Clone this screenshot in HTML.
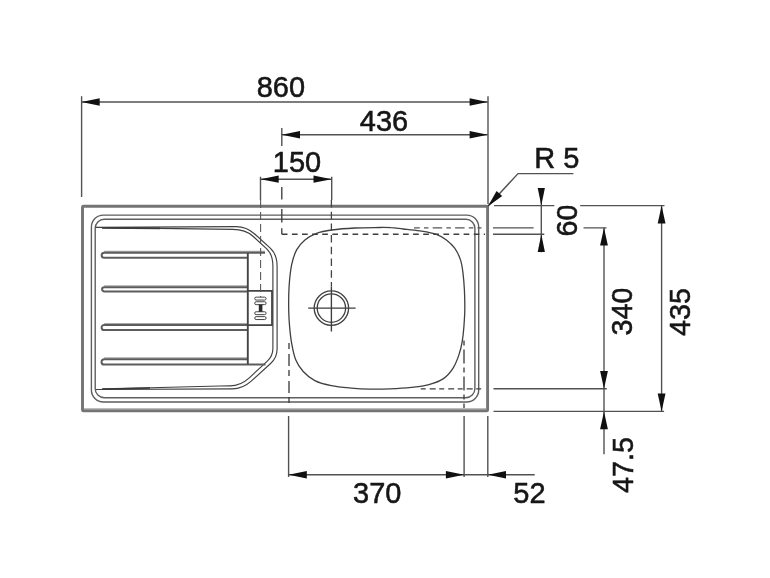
<!DOCTYPE html>
<html><head><meta charset="utf-8">
<style>
html,body{margin:0;padding:0;background:#fff;}
body{width:770px;height:578px;overflow:hidden;font-family:"Liberation Sans",sans-serif;}
svg{display:block;}
text{font-family:"Liberation Sans",sans-serif;font-size:29px;fill:#161616;stroke:#161616;stroke-width:0.55;}
.d{stroke:#525252;stroke-width:1.4;fill:none;}
.a{fill:#111;stroke:none;}
.o{stroke:#747474;stroke-width:2.9;fill:none;}
.r{stroke:#5e5e5e;stroke-width:1.4;fill:none;}
.b{stroke:#404040;stroke-width:1.3;fill:none;}
.k{stroke:#444;stroke-width:1.6;fill:none;}
.h{stroke:#3e3e3e;stroke-width:1.35;fill:none;}
</style></head><body>
<svg width="770" height="578" viewBox="0 0 770 578" style="filter:blur(0.45px)">
<rect width="770" height="578" fill="#fff"/>

<!-- ===== sink body ===== -->
<g id="sink">
<path d="M84,409 L486,409" stroke="#bdbdbd" stroke-width="1.8" fill="none"/>
<rect class="o" x="82.5" y="206.3" width="405.1" height="204.6" rx="1"/>
<rect class="r" x="91.4" y="215.1" width="387.3" height="186.9" rx="12"/>
<rect class="r" x="95.2" y="219.3" width="379.7" height="178.4" rx="9"/>

<!-- drainer outline -->
<path class="b" d="M95.6,227.3 L236,226.6 Q246.65,226.6 255,234.2 L270,247.9 Q277.1,254.4 277.1,266 L277.1,349 Q277.1,357.6 270.6,363.5 L251.5,380.9 Q242.5,389 232,388.9 L96,389.5" style="stroke-width:1.15"/>
<path class="b" d="M102,227.6 L233,229.4 Q245.4,229.4 253,236.3 L266.5,248.6 Q272.9,254.4 272.9,266 L272.9,348.6 Q272.9,356 267.3,361.2 L249.3,377.8 Q240.5,385.8 230,385.8 L170,387.3 L102.2,389.1" style="stroke-width:1.15"/>
<path d="M102,227.8 L160,228.4 M102.2,389 L150,388" stroke="#3a3a3a" stroke-width="1.7" fill="none"/>
<!-- ribs -->
<g style="fill:none;stroke:#5c5c5c;stroke-width:2">
<path d="M265,251.30 L104.2,251.30" stroke="#a8a8a8" stroke-width="1.2"/>
<path d="M265,252.70 L104.2,252.70 A2.55,2.55 0 0 0 104.2,257.80 L247.8,257.80"/>
<path d="M247.8,285.80 L104.2,285.80" stroke="#a8a8a8" stroke-width="1.2"/>
<path d="M247.8,287.20 L104.2,287.20 A2.10,2.10 0 0 0 104.2,291.40 L247.8,291.40"/>
<path d="M247.8,323.50 L104.2,323.50" stroke="#a8a8a8" stroke-width="1.2"/>
<path d="M247.8,324.90 L104.2,324.90 A2.60,2.60 0 0 0 104.2,330.10 L247.8,330.10"/>
<path d="M247.8,357.80 L104.2,357.80" stroke="#a8a8a8" stroke-width="1.2"/>
<path d="M247.8,359.20 L104.2,359.20 A2.70,2.70 0 0 0 104.2,364.60 L265.5,364.60"/>
</g>
<path class="k" d="M247.8,253 L247.8,364" style="stroke-width:1.9"/>
<!-- overflow box -->
<path class="k" d="M247.8,290.8 L272,290.8 L272,325.2 L247.8,325.2" style="stroke-width:1.8"/>
<g class="h" style="stroke-width:1;stroke:#444">
<rect x="254.7" y="297.15" width="11.4" height="2.9" rx="1.45"/>
<rect x="254.7" y="301.75" width="11.4" height="2.9" rx="1.45"/>
<rect x="254.7" y="311.75" width="11.4" height="2.9" rx="1.45"/>
<rect x="254.7" y="316.65" width="11.4" height="2.9" rx="1.45"/>
</g>
<rect x="258.8" y="304.6" width="3.6" height="7.2" fill="#2a2a2a"/>

<!-- bowl -->
<path class="b" d="M379.7,227.5 C385.7,227.4 387.1,227.4 391.0,227.7 C394.9,227.9 398.4,228.5 403.2,229.0 C408.0,229.5 414.3,230.0 419.8,230.9 C425.3,231.8 432.0,232.8 436.4,234.3 C440.8,235.8 443.3,237.6 446.4,239.9 C449.4,242.2 452.3,244.9 454.7,248.2 C457.1,251.5 459.1,255.7 460.5,259.9 C461.9,264.0 462.4,268.1 463.0,273.1 C463.6,278.1 464.1,283.7 464.4,289.8 C464.7,295.9 464.9,303.9 464.8,310.0 C464.7,316.1 464.3,321.3 463.9,326.6 C463.5,331.9 463.0,336.9 462.2,341.6 C461.4,346.3 460.4,350.5 458.9,354.9 C457.4,359.3 455.7,364.1 453.1,368.1 C450.5,372.1 447.3,376.1 443.1,378.9 C438.9,381.7 433.4,383.4 428.1,384.8 C422.8,386.2 417.9,386.6 411.5,387.3 C405.1,388.0 396.8,388.5 389.9,388.8 C383.0,389.1 376.4,389.2 370.0,389.1 C363.6,389.0 357.8,388.7 351.4,388.1 C345.0,387.5 337.5,386.9 331.4,385.6 C325.3,384.4 319.5,383.0 314.8,380.6 C310.1,378.2 306.4,375.0 303.2,371.5 C300.0,368.0 297.6,364.5 295.7,359.8 C293.8,355.1 292.6,348.7 291.6,343.2 C290.6,337.7 290.1,332.1 289.6,326.6 C289.1,321.1 288.8,316.7 288.7,310.0 C288.6,303.3 288.6,293.9 289.1,286.4 C289.6,278.9 290.4,271.0 291.6,264.9 C292.9,258.8 294.4,254.1 296.6,249.9 C298.8,245.7 301.6,242.7 304.9,239.9 C308.2,237.1 312.1,235.0 316.5,233.3 C320.9,231.7 325.1,230.9 331.5,230.0 C337.9,229.1 346.8,228.4 354.8,228.0 C362.8,227.6 373.7,227.6 379.7,227.5Z"/>

<!-- drain -->
<circle class="b" cx="331.4" cy="308.1" r="17.2"/>
<circle class="b" cx="331.4" cy="308.1" r="14.2"/>
<path class="h" d="M308.2,308.1 L355.6,308.1 M331.4,286.2 L331.4,331.6"/>
</g>

<!-- ===== hidden / dashed lines ===== -->
<g class="h">
<path d="M281.8,187 L281.8,199.6 M281.8,209.1 L281.8,222.4 M281.8,228.2 L281.8,234.3"/>
<path d="M281.8,234.2 L485,234.2" stroke-dasharray="5.7 4.4"/>
<path d="M260.6,200 L260.6,297" stroke-dasharray="8 4" style="stroke:#555;stroke-width:1.05"/>
<path d="M331.4,200 L331.4,286" stroke-dasharray="7.5 4.2" style="stroke:#444;stroke-width:1.3"/>
<path d="M414,227.9 L481.5,227.9" stroke-dasharray="9.5 4.2 4.5 4.2" stroke-dashoffset="3.7" style="stroke:#555;stroke-width:1.2"/>
<path d="M289,343 L289,408" stroke-dasharray="6 5 12 4"/>
<path d="M464,340.5 L464,408" stroke-dasharray="5 4 14 4"/>
<path d="M420.7,388.8 L485,388.8" stroke-dasharray="5 4 6 3.5"/>
</g>

<!-- ===== dimension lines ===== -->
<g class="d">
<path d="M81.6,96.2 L81.6,197"/>
<path d="M488,96.2 L488,204"/>
<path d="M81.5,102 L487.8,102"/>
<path d="M281.8,128 L281.8,146"/>
<path d="M281.8,134.8 L487.8,134.8"/>
<path d="M260.5,176.7 L260.5,200 M331.7,176.7 L331.7,200"/>
<path d="M260.5,179.2 L331.7,179.2"/>
<path d="M487.8,206.3 L518,173.6 L573.4,173.6"/>
<path d="M541.3,187.9 L541.3,252.3"/>
<path d="M494,205.6 L554.3,205.6 M580.2,205.6 L664.5,205.6"/>
<path d="M493,227.9 L533.6,227.9 M583.5,227.9 L606.5,227.9"/>
<path d="M493,234.3 L544.3,234.3"/>
<path d="M604,227.8 L604,454.3"/>
<path d="M661.6,205.6 L661.6,411.4"/>
<path d="M493.5,388.7 L606.8,388.7"/>
<path d="M493.5,411.4 L664.1,411.4"/>
<path d="M288.6,416 L288.6,477 M464.1,416 L464.1,477 M487.8,416 L487.8,477"/>
<path d="M288.6,474.8 L534.7,474.8"/>
</g>

<!-- ===== arrowheads ===== -->
<g class="a">
<path d="M81.5,102 l18.2,-3.8 v7.6z"/>
<path d="M487.8,102 l-18.2,-3.8 v7.6z"/>
<path d="M281.8,134.8 l18.2,-3.8 v7.6z"/>
<path d="M487.8,134.8 l-18.2,-3.8 v7.6z"/>
<path d="M260.5,179.2 l18.2,-3.6 v7.2z"/>
<path d="M331.7,179.2 l-18.2,-3.6 v7.2z"/>
<path d="M487.8,206.5 l14.4,-10.5 l-5.6,-5z"/>
<path d="M541.3,205.6 l-3.6,-17.7 h7.2z"/>
<path d="M541.3,234.3 l-3.6,17.7 h7.2z"/>
<path d="M604,227.8 l-3.9,17.8 h7.8z"/>
<path d="M604,388.7 l-3.9,-17.8 h7.8z"/>
<path d="M661.6,205.6 l-3.9,17.8 h7.8z"/>
<path d="M661.6,411.4 l-3.9,-17.8 h7.8z"/>
<path d="M604,411.4 l-3.9,17.8 h7.8z"/>
<path d="M288.6,474.8 l18.2,-3.8 v7.6z"/>
<path d="M464.1,474.8 l-18.2,-3.8 v7.6z"/>
<path d="M487.8,474.8 l18.2,-3.8 v7.6z"/>
</g>

<!-- ===== labels ===== -->
<g text-anchor="middle">
<text transform="translate(280.9,96.5) scale(1,1.025)">860</text>
<text transform="translate(384,131.2) scale(1,1.025)">436</text>
<text transform="translate(297,171.6) scale(1,1.025)">150</text>
<text transform="translate(556.8,168) scale(1,1.025)">R 5</text>
<text transform="translate(377.2,502.6) scale(1,1.025)">370</text>
<text transform="translate(529.4,502.6) scale(1,1.025)">52</text>
<text transform="translate(577.2,220.6) rotate(-90) scale(0.99,1.01)">60</text>
<text transform="translate(632.2,311.5) rotate(-90) scale(0.99,1.01)">340</text>
<text transform="translate(689.5,312) rotate(-90) scale(0.99,1.01)">435</text>
<text transform="translate(632.6,465) rotate(-90) scale(0.99,1.01)">47.5</text>
</g>
</svg>
</body></html>
